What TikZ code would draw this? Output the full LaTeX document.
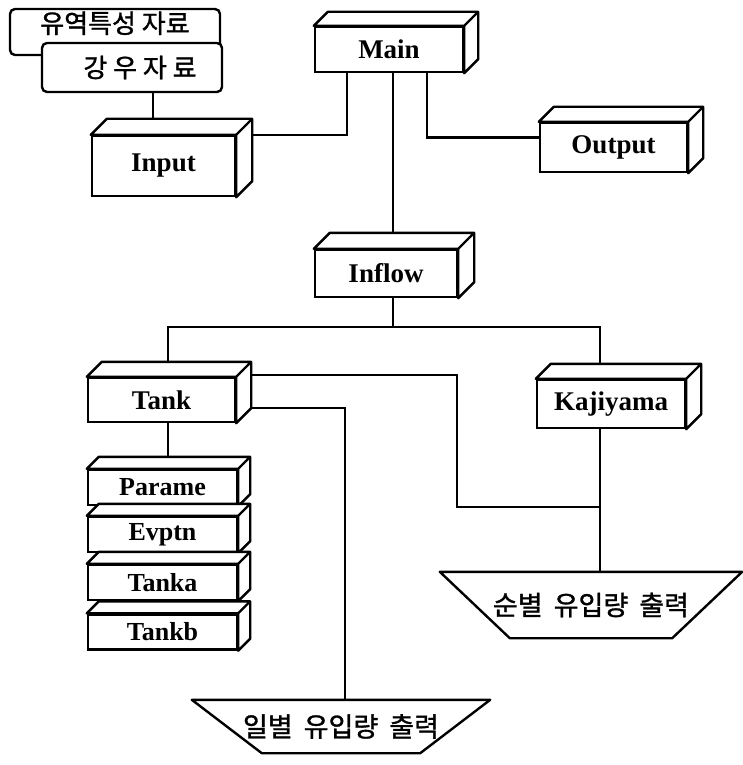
\documentclass[tikz,border=0pt]{standalone}
\usepackage{fontspec}
\setmainfont{Liberation Serif}
\newfontfamily\kr[AutoFakeBold=1.2]{Noto Sans CJK KR}
\usetikzlibrary{backgrounds}

\tikzset{
  modbox/.style={draw, line width=2.4pt, fill=white, inner sep=0pt,
    font=\bfseries\fontsize{27}{30}\selectfont,
    append after command={\pgfextra{\begin{pgfinterruptpath}
      \draw[line width=2.4pt, fill=white, line join=round]
        (\tikzlastnode.north west) -- ++(#1,-#1) -| ([shift={(#1,-#1)}]\tikzlastnode.south east)
        -- (\tikzlastnode.south east) -- (\tikzlastnode.north east) -- cycle
        (\tikzlastnode.north east) -- ++(#1,-#1);
    \end{pgfinterruptpath}}}},
  modbox/.default=15,
  stackbox/.style={modbox=12, minimum width=149pt, minimum height=35pt,
    font=\bfseries\fontsize{26}{28}\selectfont},
  datbox/.style={draw, line width=2.4pt, rounded corners=5pt, fill=white, inner sep=0pt,
    font=\kr\bfseries\fontsize{26}{28}\selectfont},
  report/.style={inner sep=0pt, font=\kr\bfseries\fontsize{27}{30}\selectfont,
    append after command={\pgfextra{\begin{pgfinterruptpath}
      \draw[line width=2.4pt, line join=round]
        (\tikzlastnode.north west) -- (\tikzlastnode.north east)
        -- ([xshift=-70pt]\tikzlastnode.south east) -- ([xshift=70pt]\tikzlastnode.south west) -- cycle;
    \end{pgfinterruptpath}}}},
  link/.style={line width=2.2pt}
}

\begin{document}
\begin{tikzpicture}[x=1pt, y=-1pt]
\useasboundingbox (0,0) rectangle (743,765);

\node[datbox, minimum width=210pt, text height=24pt, text depth=22pt] (basin) at (115,32) {유역특성 자료};
\node[datbox, minimum width=180pt, minimum height=49pt] (rain) at (132,67.5)
  {\hspace{16pt}강 우 자 료};

\node[modbox=14, minimum width=148pt, minimum height=45pt] (main) at (389,49.5) {Main};
\node[modbox=16, minimum width=143pt, minimum height=60pt] (input) at (163.5,166) {Input};
\node[modbox, minimum width=147pt, minimum height=49pt] (output) at (613.5,147.5) {Output};
\node[modbox=16, minimum width=142pt, minimum height=47pt] (inflow) at (386,273.5) {Inflow};
\node[modbox, minimum width=147pt, minimum height=44pt] (tank) at (161.5,400) {Tank};
\node[modbox, minimum width=148pt, minimum height=48pt] (kajiyama) at (611,404) {Kajiyama};

\node[stackbox] (parame) at (162.5,487.5) {Parame};
\node[stackbox] (evptn) at (162.5,534.5) {Evptn};
\node[stackbox] (tanka) at (162.5,582.5) {Tanka};
\node[stackbox] (tankb) at (162.5,632) {Tankb};

\node[report, minimum width=302pt, minimum height=66pt] (sunbyeol) at (591,605) {순별\hspace{5pt} 유입량\hspace{5pt} 출력};
\node[report, minimum width=298pt, minimum height=53pt] (ilbyeol) at (341,726.5) {일별\hspace{5pt} 유입량\hspace{5pt} 출력};

\coordinate (fork) at (393,327);
\coordinate (tturn) at (457,507);
\coordinate (tjoin) at (600,507);

\begin{scope}[on background layer]
\draw[link] ([xshift=21pt]rain.south) -- ([xshift=-10.5pt]input.north);
\draw[link] ([xshift=-42pt]main.south) |- (input.north east);
\draw[link] ([xshift=38pt]main.south) |- ([yshift=10pt]output.west);
\draw[link] ([xshift=4pt]main.south) -- ([xshift=4pt]main.south |- inflow.north);
\draw[link] ([xshift=7pt]inflow.south) -- (fork);
\draw[link] ([xshift=6.5pt]tank.north) |- (fork) -| ([xshift=-11pt]kajiyama.north);
\draw[link] ([xshift=6.5pt]tank.south) -- ([xshift=6.5pt]tank.south |- parame.north);
\draw[link] ([xshift=-11pt]kajiyama.south) -- ([xshift=-11pt]kajiyama.south |- sunbyeol.north);
\draw[link] ([yshift=2pt]tank.north east) -| (tturn) -- (tjoin);
\draw[link] ([yshift=-8pt]tank.east) -| ([xshift=4pt]ilbyeol.north);
\end{scope}
\end{tikzpicture}
\end{document}
